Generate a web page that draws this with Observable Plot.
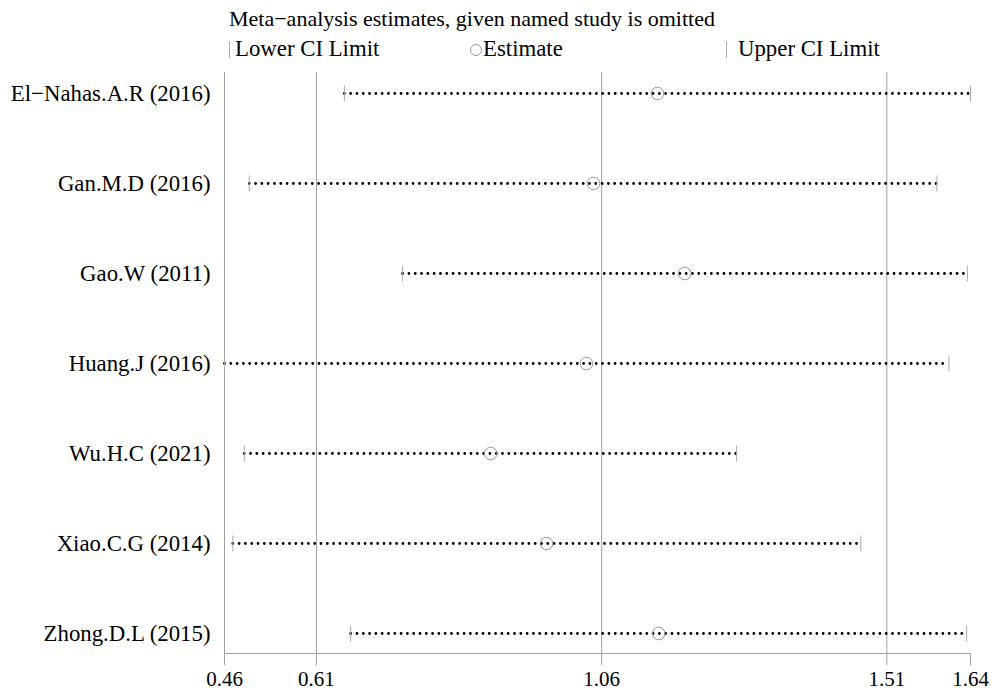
<!DOCTYPE html>
<html>
<head>
<meta charset="utf-8">
<script src="https://cdn.jsdelivr.net/npm/d3@7"></script>
<script src="https://cdn.jsdelivr.net/npm/@observablehq/plot@0.6"></script>
<style>
  html, body { margin: 0; padding: 0; background: #fff; }
  #wrap { position: relative; width: 998px; height: 694px; font-family: "Liberation Serif", "Times New Roman", serif; color: #000; }
  #title { position: absolute; left: 229px; top: 6px; font-size: 22px; line-height: 26px; white-space: nowrap; }
  .leg { position: absolute; top: 36px; font-size: 22.8px; line-height: 26px; white-space: nowrap; }
  .bar { display: inline-block; width: 1px; height: 17px; background: #aaa; vertical-align: -2px; }
  .circ { display: inline-block; width: 12px; height: 12px; border: 1px solid #999; border-radius: 50%; vertical-align: 0px; margin-right: 1px; box-sizing: border-box; }
  #chart { position: absolute; left: 0; top: 0; }
</style>
</head>
<body>
<div id="wrap">
  <div id="chart"></div>
  <div id="title">Meta−analysis estimates, given named study is omitted</div>
  <div class="leg" style="left:229px"><span class="bar" style="margin-right:5px"></span>Lower CI Limit</div>
  <div class="leg" style="left:470px"><span class="circ"></span>Estimate</div>
  <div class="leg" style="left:726px"><span class="bar" style="margin-right:11px"></span>Upper CI Limit</div>
</div>
<script>
const studies = ["El−Nahas.A.R (2016)", "Gan.M.D (2016)", "Gao.W (2011)", "Huang.J (2016)", "Wu.H.C (2021)", "Xiao.C.G (2014)", "Zhong.D.L (2015)"];
const lower    = [0.654, 0.504, 0.746, 0.4649, 0.496, 0.478, 0.664];
const estimate = [1.148, 1.047, 1.191, 1.036, 0.885, 0.973, 1.150];
const upper    = [1.642, 1.589, 1.637, 1.608, 1.273, 1.469, 1.636];
const tickValues = [0.4649, 0.61, 1.06, 1.51, 1.642];
const tickLabels = ["0.46", "0.61", "1.06", "1.51", "1.64"];
const refLines = [0.61, 1.06, 1.51];

const data = studies.map((s, i) => ({study: s, lo: lower[i], est: estimate[i], hi: upper[i]}));
const serif = "Liberation Serif, Times New Roman, serif";
const vbar = {draw(ctx) { ctx.moveTo(0, -8); ctx.lineTo(0, 8); }};
const fmt = (d) => tickLabels[tickValues.indexOf(d)];

const chart = Plot.plot({
  width: 998,
  height: 694,
  marginTop: 72,
  marginBottom: 41,
  marginLeft: 224,
  marginRight: 28,
  style: {fontFamily: serif, fontSize: "22px", background: "transparent", color: "#000"},
  x: {domain: [0.4649, 1.642], label: null},
  y: {type: "point", domain: studies, range: [93, 633], padding: 0, label: null},
  marks: [
    Plot.ruleX(refLines, {stroke: "#a0a0a0", strokeWidth: 1}),
    Plot.ruleX([0.4649], {stroke: "#a0a0a0", strokeWidth: 1}),
    Plot.frame({anchor: "bottom", stroke: "#a0a0a0"}),
    Plot.axisX({ticks: tickValues, tickFormat: fmt, tickSize: 12, tickPadding: 6, stroke: "#a0a0a0", color: "#000", fontSize: 21}),
    Plot.axisY({tickSize: 0, tickPadding: 14, fontSize: 22.8, color: "#000"}),
    Plot.link(data, {x1: "lo", x2: "hi", y1: "study", y2: "study", stroke: "#000", strokeWidth: 2.8, strokeLinecap: "round", strokeDasharray: "0,6.3"}),
    Plot.dot(data, {x: "lo", y: "study", symbol: vbar, stroke: "#aaa", strokeWidth: 1, fill: "none"}),
    Plot.dot(data, {x: "hi", y: "study", symbol: vbar, stroke: "#aaa", strokeWidth: 1, fill: "none"}),
    Plot.dot(data, {x: "est", y: "study", r: 6.3, stroke: "#999", strokeWidth: 1, fill: "none"})
  ]
});
document.getElementById("chart").appendChild(chart);
</script>
</body>
</html>
